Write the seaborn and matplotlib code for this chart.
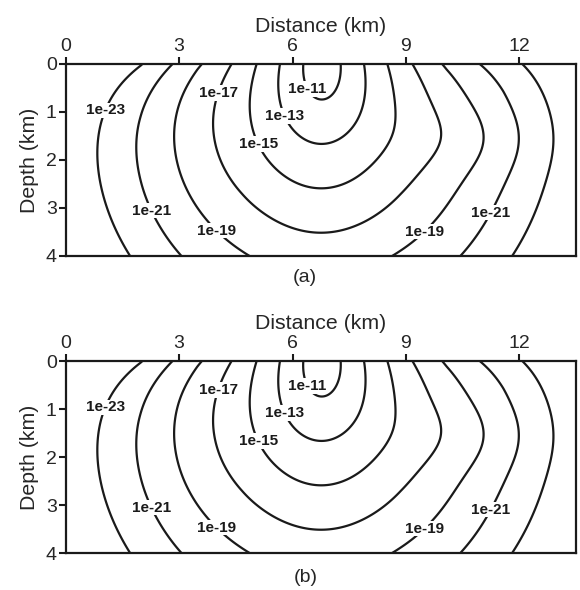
import numpy as np
import matplotlib
matplotlib.use("Agg")
import matplotlib.pyplot as plt
import seaborn as sns

sns.set_theme(style="ticks")
plt.rcParams['font.family'] = ['Liberation Sans', 'DejaVu Sans']

# ---- data ----
level_exponents = [-23, -21, -19, -17, -15, -13, -11]   # contour levels, log10
x_ticks = [0, 3, 6, 9, 12]
y_ticks = [0, 1, 2, 3, 4]
panel_labels = ["(a)", "(b)"]
x_range = [0, 13.5]
depth_range = [0, 4]

source_x = [6.78, 6.75]  # km, centre of the contours at the surface / at 4 km depth
peak_exponent = -11      # log10 value on innermost contour
decades_per_unit = 2.0   # decades between neighbouring contours
core_radius = 0.8        # normalised radius of innermost contour
vert_scale = 0.925       # km of depth per contour step
horiz_scale = 0.98       # km of distance per contour step (at depth)
surface_squeeze = [0.37, 0.042, 2.1]         # max, slope, onset
squeeze_depth = [1.5, 2.2, 2.2]              # decay depth: base, extra, width
right_bulge = [0.095, 3.4, 1.9, 1.6, 0.7]    # amount, offset, width, depth, half-height
surface_tilt = [0.04, 3.3, 1.5, 1.2]         # amount, onset, ramp, decay depth

# label anchor points (x km, depth km)
label_points = [(1.15, 1.0), (2.15, 3.1), (11.25, 3.1), (3.95, 3.5), (9.5, 3.5),
                (3.95, 0.58), (5.0, 1.7), (5.75, 1.1), (6.25, 0.58)]


def log_field(X, Z):
    x0 = source_x[0] + (source_x[1] - source_x[0]) * Z / depth_range[1]
    u = X - x0
    au = np.abs(u)
    cmax, slope, onset = surface_squeeze
    c = np.minimum(cmax, cmax - slope * (au - onset))
    lb, le, lw = squeeze_depth
    lam = lb + le * np.exp(-(au / lw) ** 2)
    sx = 1 - c * np.exp(-Z / lam)
    amt, uc, uw, zc, zh = right_bulge
    bump = amt * np.exp(-((u - uc) / uw) ** 2) * np.exp(-((Z - zc) / zh) ** 2)
    ta, to, tr, tl = surface_tilt
    tilt = ta * np.clip((au - to) / tr, 0, 1) * np.exp(-Z / tl)
    a = horiz_scale * np.where(u > 0, 1 + bump + tilt, 1 - tilt)
    r = np.hypot(u / (a * sx), Z / vert_scale)
    return peak_exponent - decades_per_unit * (r - core_radius)


xs = np.linspace(x_range[0], x_range[1], 676)
zs = np.linspace(depth_range[0], depth_range[1], 201)
X, Z = np.meshgrid(xs, zs)
L = log_field(X, Z)

fig = plt.figure(figsize=(5.8, 5.9), dpi=100)
W, H = 580, 590
boxes = [(65.7, 64, 576, 256), (65.7, 361, 576, 553)]
panel_label_xy = [(305, 277), (306, 578)]

for (l, t, r, b), plab, (px, py) in zip(boxes, panel_labels, panel_label_xy):
    ax = fig.add_axes([l / W, 1 - b / H, (r - l) / W, (b - t) / H])
    cs = ax.contour(X, Z, L, levels=level_exponents, colors='k',
                    linewidths=1.6, linestyles='solid')
    texts = ax.clabel(cs, manual=label_points, fmt=lambda v: f"1e{int(round(v))}",
                      fontsize=11, inline=False)
    for tx in texts:
        tx.set_rotation(0)
        tx.set_fontweight('bold')
        tx.set_color('k')
        tx.set_bbox(dict(facecolor='white', edgecolor='none', pad=0.5))
        tx.set_zorder(5)
    ax.set_xlim(*x_range)
    ax.set_ylim(depth_range[1], depth_range[0])
    ax.set_xticks(x_ticks)
    ax.set_yticks(y_ticks)
    ax.xaxis.tick_top()
    ax.xaxis.set_label_position('top')
    ax.set_xlabel("Distance (km)", fontsize=15.3, labelpad=4)
    ax.set_ylabel("Depth (km)", fontsize=15.3, labelpad=5)
    ax.tick_params(axis='both', labelsize=14, length=5, width=1.5, color='k',
                   pad=1.5, direction='out')
    for sp in ax.spines.values():
        sp.set_visible(True)
        sp.set_linewidth(1.6)
        sp.set_color('k')
    ax.set_facecolor('white')
    fig.text(px / W, 1 - py / H, plab, ha='center', va='center', fontsize=14)

fig.savefig("out.png", dpi=100, facecolor='white')
